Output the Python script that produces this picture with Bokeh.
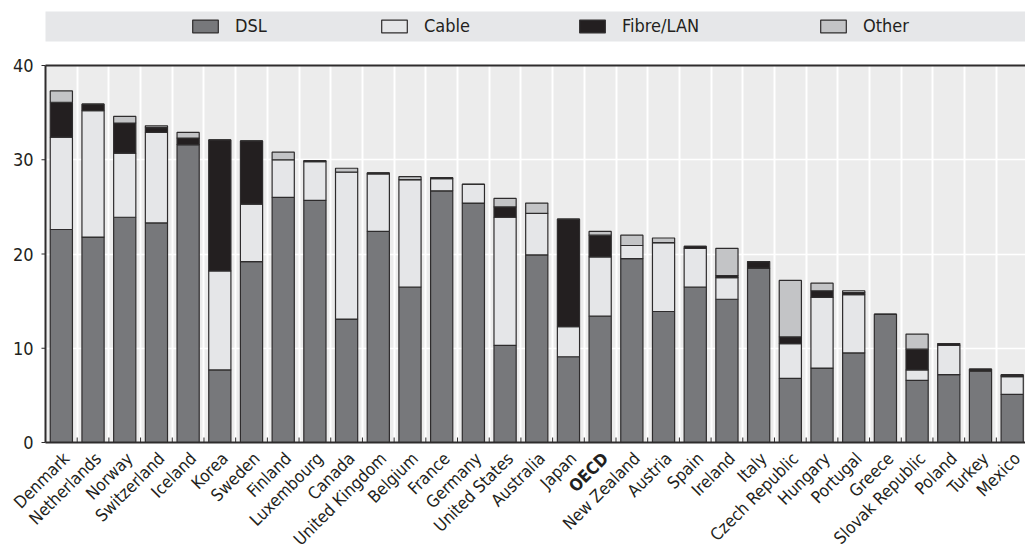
import math
from bokeh.plotting import figure
from bokeh.models import (ColumnDataSource, Range1d, FixedTicker, Grid,
                          Legend, LegendItem, BoxAnnotation)
from bokeh.core.properties import value
from bokeh.embed import file_html
from bokeh.resources import INLINE

# Broadband subscribers per 100 inhabitants, by technology
countries = ["Denmark", "Netherlands", "Norway", "Switzerland", "Iceland", "Korea",
             "Sweden", "Finland", "Luxembourg", "Canada", "United Kingdom", "Belgium",
             "France", "Germany", "United States", "Australia", "Japan", "OECD",
             "New Zealand", "Austria", "Spain", "Ireland", "Italy", "Czech Republic",
             "Hungary", "Portugal", "Greece", "Slovak Republic", "Poland", "Turkey",
             "Mexico"]
dsl = [22.6, 21.8, 23.9, 23.3, 31.6, 7.7, 19.2, 26.0, 25.7, 13.1, 22.4, 16.5,
       26.7, 25.4, 10.3, 19.9, 9.1, 13.4, 19.5, 13.9, 16.5, 15.2, 18.5, 6.8,
       7.9, 9.5, 13.6, 6.6, 7.2, 7.6, 5.1]
cable = [9.8, 13.4, 6.8, 9.6, 0.0, 10.5, 6.1, 4.0, 4.1, 15.6, 6.1, 11.4,
         1.3, 2.0, 13.6, 4.4, 3.2, 6.3, 1.4, 7.3, 4.1, 2.3, 0.0, 3.7,
         7.5, 6.2, 0.0, 1.1, 3.1, 0.0, 1.9]
fibre = [3.7, 0.7, 3.2, 0.5, 0.7, 13.9, 6.7, 0.0, 0.1, 0.0, 0.1, 0.0,
         0.1, 0.0, 1.1, 0.0, 11.4, 2.3, 0.0, 0.0, 0.2, 0.2, 0.7, 0.7,
         0.7, 0.2, 0.0, 2.2, 0.2, 0.2, 0.1]
other = [1.2, 0.0, 0.7, 0.2, 0.6, 0.0, 0.0, 0.8, 0.0, 0.4, 0.0, 0.3,
         0.0, 0.0, 0.9, 1.1, 0.0, 0.4, 1.1, 0.5, 0.0, 2.9, 0.0, 6.0,
         0.8, 0.2, 0.0, 1.6, 0.0, 0.0, 0.1]
series = ["DSL", "Cable", "Fibre/LAN", "Other"]
y_ticks = [0, 10, 20, 30, 40]
highlight = "OECD"

COLORS = ["#77787b", "#e5e6e8", "#231f20", "#c3c4c6"]
EDGE = "#2e2c2d"
TEXT = "#231f20"
PANEL = "#ececec"
BAND = "#e6e7e9"
FONT = "'DejaVu Sans Condensed', 'Liberation Sans', sans-serif"

n = len(countries)
xs = [i + 0.5 for i in range(n)]
boundaries = list(range(1, n))

# The frame covers the whole canvas so that the rotated names, the value
# labels and the legend band are not clipped; axes are drawn by hand.
W, H = 1025, 545
LEFT_PX, TOP_PX, BOTTOM_PX = 45, 65, 103      # margins around the 0..40 panel
BAND_TOP_PX, BAND_BOTTOM_PX = 11, 41          # legend band, from the top
X_END = 30.92
Y_MAX = y_ticks[-1]
ppu_x = (W - LEFT_PX) / X_END
ppu_y = (H - TOP_PX - BOTTOM_PX) / Y_MAX

src = ColumnDataSource(dict(x=xs, name=countries, dsl=dsl, cable=cable,
                            fibre=fibre, other=other))

p = figure(width=W, height=H, output_backend="svg", toolbar_location=None,
           x_range=Range1d(-LEFT_PX / ppu_x, X_END),
           y_range=Range1d(-BOTTOM_PX / ppu_y, Y_MAX + TOP_PX / ppu_y),
           x_axis_location=None, y_axis_location=None,
           min_border=0, min_border_left=0, min_border_right=0,
           min_border_top=0, min_border_bottom=0,
           background_fill_color="white", border_fill_color="white",
           outline_line_color=None)
for g in list(p.grid):
    g.visible = False

# legend band across the top
p.add_layout(BoxAnnotation(left=0, right=X_END,
                           bottom=Y_MAX + (TOP_PX - BAND_BOTTOM_PX) / ppu_y,
                           top=Y_MAX + (TOP_PX - BAND_TOP_PX) / ppu_y,
                           fill_color=BAND, fill_alpha=1, line_color=None,
                           level="underlay"))
# grey panel, then white grid lines on top of it
p.add_layout(BoxAnnotation(left=0, right=X_END, bottom=0, top=Y_MAX,
                           fill_color=PANEL, fill_alpha=1, line_color=None,
                           level="underlay"))
p.add_layout(Grid(dimension=1, ticker=FixedTicker(ticks=y_ticks[1:-1]),
                  grid_line_color="white", grid_line_width=1.5,
                  cross_bounds=(0, X_END)))
p.add_layout(Grid(dimension=0, ticker=FixedTicker(ticks=boundaries),
                  grid_line_color="white", grid_line_width=2,
                  cross_bounds=(0, Y_MAX)))

bars = p.vbar_stack(["dsl", "cable", "fibre", "other"], x="x", width=0.7,
                    source=src, fill_color=COLORS, line_color=EDGE, line_width=1.2)

# panel border: value axis, baseline and top rule
p.segment(x0=[0, 0, 0], y0=[0, 0, Y_MAX], x1=[0, X_END, X_END], y1=[Y_MAX, 0, Y_MAX],
          line_color=EDGE, line_width=2)
# short inward ticks between the bars, outward ticks on the value axis
p.ray(x=boundaries, y=[0] * len(boundaries), length=5, length_units="screen",
      angle=math.pi / 2, line_color=EDGE, line_width=1)
p.ray(x=[0] * len(y_ticks), y=y_ticks, length=4, length_units="screen",
      angle=math.pi, line_color=EDGE, line_width=1.2)
p.text(x=[0] * len(y_ticks), y=y_ticks, text=[str(t) for t in y_ticks],
       x_offset=-12, text_align="right", text_baseline="middle",
       text_font=value(FONT), text_font_size="18px", text_color=TEXT)

# country names, rotated under each bar (the OECD average in bold)
for bold in (False, True):
    sel = [i for i, c in enumerate(countries) if (c == highlight) == bold]
    s = ColumnDataSource(dict(x=[xs[i] for i in sel],
                              y=[0] * len(sel),
                              name=[countries[i] for i in sel]))
    p.text(x="x", y="y", text="name", source=s, angle=math.pi / 4,
           x_offset=5, y_offset=13, text_align="right", text_baseline="middle",
           text_font=value(FONT), text_font_size="17px",
           text_font_style="bold" if bold else "normal", text_color=TEXT)

# one legend entry per series, spread across the band
legend_x = [189, 378, 576, 817]
legend_y = H - BAND_BOTTOM_PX + 5
for label, r, lx in zip(series, bars, legend_x):
    leg = Legend(items=[LegendItem(label=label, renderers=[r])],
                 location=(lx, legend_y), orientation="horizontal",
                 background_fill_alpha=0, border_line_color=None,
                 padding=0, margin=0, glyph_width=32, glyph_height=16,
                 label_standoff=14, label_text_font=FONT,
                 label_text_font_size="18px", label_text_color=TEXT)
    p.add_layout(leg)

open("out.html", "w").write(file_html(p, INLINE))
